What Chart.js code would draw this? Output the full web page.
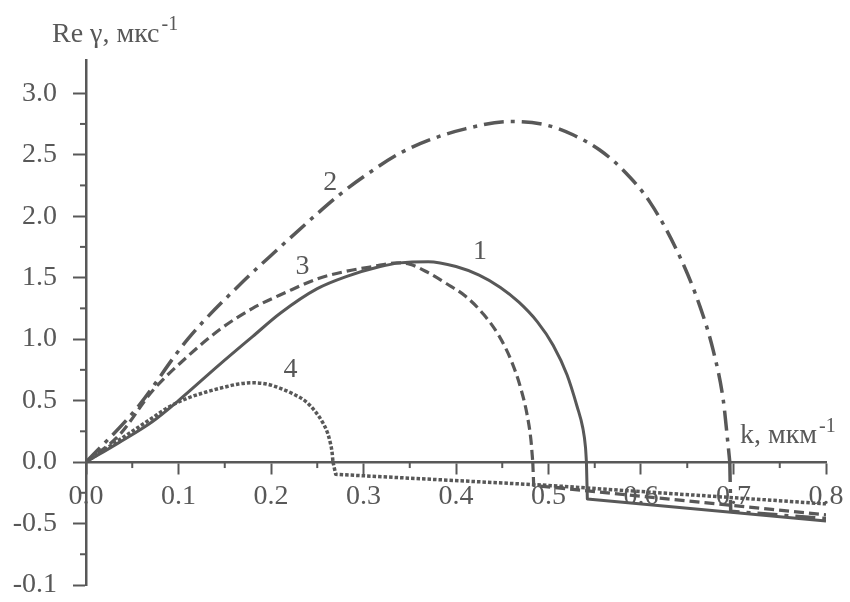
<!DOCTYPE html>
<html>
<head>
<meta charset="utf-8">
<script src="https://cdn.jsdelivr.net/npm/chart.js@4.4.1/dist/chart.umd.min.js"></script>
<style>
  html, body { margin: 0; padding: 0; background: #ffffff; }
  #wrap { width: 850px; height: 602px; position: relative; }
</style>
</head>
<body>
<div id="wrap"><canvas id="c" width="850" height="602"></canvas></div>
<script>
// ---- data ----
// curve 1 (solid): positive arch, then the negative branch
const k1 = [0, 0.036, 0.072, 0.10, 0.144, 0.18, 0.21, 0.25, 0.282, 0.318, 0.339, 0.37, 0.40, 0.425, 0.448, 0.468, 0.488, 0.505, 0.52, 0.531, 0.537, 0.540, 0.541];
const g1 = [0, 0.16, 0.33, 0.50, 0.79, 1.02, 1.21, 1.41, 1.51, 1.59, 1.62, 1.63, 1.59, 1.52, 1.42, 1.30, 1.14, 0.95, 0.71, 0.45, 0.28, 0.12, 0.0];
const k1n = [0.541, 0.542, 0.8];
const g1n = [0.0, -0.30, -0.48];
// curve 2 (dash-dot)
const k2 = [0, 0.054, 0.11, 0.17, 0.20, 0.25, 0.275, 0.30, 0.339, 0.375, 0.41, 0.458, 0.498, 0.527, 0.555, 0.58, 0.61, 0.642, 0.664, 0.678, 0.689, 0.694, 0.696];
const g2 = [0, 0.43, 1.00, 1.47, 1.68, 2.02, 2.18, 2.32, 2.51, 2.63, 2.71, 2.77, 2.74, 2.66, 2.54, 2.38, 2.11, 1.67, 1.26, 0.91, 0.50, 0.15, 0.0];
const k2n = [0.696, 0.697, 0.8];
const g2n = [0.0, -0.40, -0.46];
// curve 3 (dashed)
const k3 = [0, 0.036, 0.072, 0.11, 0.145, 0.18, 0.216, 0.25, 0.28, 0.31, 0.336, 0.35, 0.37, 0.39, 0.41, 0.43, 0.447, 0.46, 0.47, 0.477, 0.481, 0.483];
const g3 = [0, 0.22, 0.58, 0.86, 1.08, 1.25, 1.38, 1.49, 1.55, 1.59, 1.62, 1.61, 1.54, 1.45, 1.35, 1.20, 1.02, 0.82, 0.60, 0.38, 0.18, 0.0];
const k3n = [0.483, 0.484, 0.8];
const g3n = [0.0, -0.19, -0.43];
// curve 4 (dotted)
const k4 = [0, 0.03, 0.05, 0.07, 0.09, 0.11, 0.13, 0.15, 0.165, 0.18, 0.195, 0.21, 0.225, 0.238, 0.248, 0.256, 0.261, 0.264, 0.266, 0.267];
const g4 = [0, 0.15, 0.25, 0.35, 0.45, 0.52, 0.57, 0.61, 0.635, 0.645, 0.635, 0.60, 0.55, 0.49, 0.41, 0.32, 0.24, 0.16, 0.08, 0.0];
const k4n = [0.267, 0.27, 0.5, 0.8];
const g4n = [0.0, -0.10, -0.19, -0.34];

// axis ticks and labels
const xTicks = [0, 0.1, 0.2, 0.3, 0.4, 0.5, 0.6, 0.7, 0.8];
const xTickLabels = ['0.0', '0.1', '0.2', '0.3', '0.4', '0.5', '0.6', '0.7', '0.8'];
const xMinor = [0.05, 0.15, 0.25, 0.35, 0.45, 0.55, 0.65, 0.75];
const yTicks = [-1.0, -0.5, 0, 0.5, 1.0, 1.5, 2.0, 2.5, 3.0];
const yTickLabels = ['-0.1', '-0.5', '0.0', '0.5', '1.0', '1.5', '2.0', '2.5', '3.0'];
const yMinor = [-0.75, -0.25, 0.25, 0.75, 1.25, 1.75, 2.25, 2.75];

// curve number labels (placed at data coordinates)
const curveNames = ['1', '2', '3', '4'];
const nameK = [0.426, 0.264, 0.234, 0.221];
const nameG = [1.71, 2.27, 1.59, 0.75];

const INK = '#585858';
const FONT = '"Liberation Serif", "Times New Roman", serif';
const FS = 28;

function pts(ks, gs) { return ks.map((k, i) => ({ x: k, y: gs[i] })); }

const minorTicks = {
  id: 'minorTicks',
  afterDraw(chart) {
    const { ctx, scales: { x, y } } = chart;
    ctx.save();
    ctx.strokeStyle = INK;
    ctx.lineWidth = 2;
    const y0 = y.getPixelForValue(0);
    xMinor.forEach(v => {
      const px = x.getPixelForValue(v);
      ctx.beginPath(); ctx.moveTo(px, y0); ctx.lineTo(px, y0 + 6); ctx.stroke();
    });
    const xl = chart.chartArea.left;
    yMinor.forEach(v => {
      const py = y.getPixelForValue(v);
      ctx.beginPath(); ctx.moveTo(xl, py); ctx.lineTo(xl - 6, py); ctx.stroke();
    });
    // curve numbers
    ctx.fillStyle = INK;
    ctx.font = FS + 'px ' + FONT;
    ctx.textAlign = 'center';
    ctx.textBaseline = 'middle';
    curveNames.forEach((n, i) => {
      ctx.fillText(n, x.getPixelForValue(nameK[i]), y.getPixelForValue(nameG[i]));
    });
    // axis titles with superscripts
    ctx.textAlign = 'left';
    ctx.textBaseline = 'alphabetic';
    ctx.font = FS + 'px ' + FONT;
    const t1 = 'Re \u03b3, \u043c\u043a\u0441';
    ctx.fillText(t1, 52, 42);
    let w = ctx.measureText(t1).width;
    ctx.font = '20px ' + FONT;
    ctx.fillText('-1', 52 + w + 2, 30);
    ctx.font = FS + 'px ' + FONT;
    const t2 = 'k, \u043c\u043a\u043c';
    ctx.fillText(t2, 740, 443);
    w = ctx.measureText(t2).width;
    ctx.font = '20px ' + FONT;
    ctx.fillText('-1', 740 + w + 2, 432);
    ctx.restore();
  }
};

const base = { borderColor: INK, backgroundColor: INK, pointRadius: 0, fill: false, showLine: true, borderCapStyle: 'butt', borderJoinStyle: 'round' };
const styles = [
  { borderWidth: 3 },
  { borderWidth: 3.5, borderDash: [20, 7, 4, 7] },
  { borderWidth: 3.2, borderDash: [10, 5] },
  { borderWidth: 3.5, borderDash: [3.5, 2] }
];
const arches = [[k1, g1], [k2, g2], [k3, g3], [k4, g4]];
const tails = [[k1n, g1n], [k2n, g2n], [k3n, g3n], [k4n, g4n]];
const datasets = [];
arches.forEach((a, i) => {
  datasets.push(Object.assign({ label: curveNames[i], data: pts(a[0], a[1]), cubicInterpolationMode: 'monotone' }, base, styles[i]));
  datasets.push(Object.assign({ label: curveNames[i] + ' tail', data: pts(tails[i][0], tails[i][1]), tension: 0 }, base, styles[i]));
});

new Chart(document.getElementById('c'), {
  type: 'scatter',
  data: { datasets },
  options: {
    responsive: false,
    animation: false,
    devicePixelRatio: 1,
    layout: { padding: { left: 0, top: 60, right: 24, bottom: 17 } },
    plugins: { legend: { display: false }, tooltip: { enabled: false }, title: { display: false } },
    scales: {
      x: {
        type: 'linear',
        position: { y: 0 },
        min: 0, max: 0.8,
        afterBuildTicks: s => { s.ticks = xTicks.map(v => ({ value: v })); },
        afterFit: s => { s.paddingLeft = 0; s.paddingRight = 0; },
        ticks: {
          color: INK, font: { family: FONT, size: FS }, padding: 7, maxRotation: 0, autoSkip: false,
          callback: (v) => { const i = xTicks.findIndex(t => Math.abs(t - v) < 1e-9); return i >= 0 ? xTickLabels[i] : ''; }
        },
        grid: { drawOnChartArea: false, drawTicks: true, tickLength: 11, tickColor: INK, tickWidth: 2 },
        border: { display: true, color: INK, width: 2.5 }
      },
      y: {
        type: 'linear',
        position: 'left',
        min: -1.0, max: 3.27,
        afterBuildTicks: s => { s.ticks = yTicks.map(v => ({ value: v })); },
        afterFit: s => { s.width = 86; s.paddingTop = 0; s.paddingBottom = 0; },
        ticks: {
          color: INK, font: { family: FONT, size: FS }, padding: 16, autoSkip: false,
          callback: (v) => { const i = yTicks.findIndex(t => Math.abs(t - v) < 1e-9); return i >= 0 ? yTickLabels[i] : ''; }
        },
        grid: { drawOnChartArea: false, drawTicks: true, tickLength: 13, tickColor: INK, tickWidth: 2 },
        border: { display: true, color: INK, width: 2.5 }
      }
    }
  },
  plugins: [minorTicks]
});
</script>
</body>
</html>
